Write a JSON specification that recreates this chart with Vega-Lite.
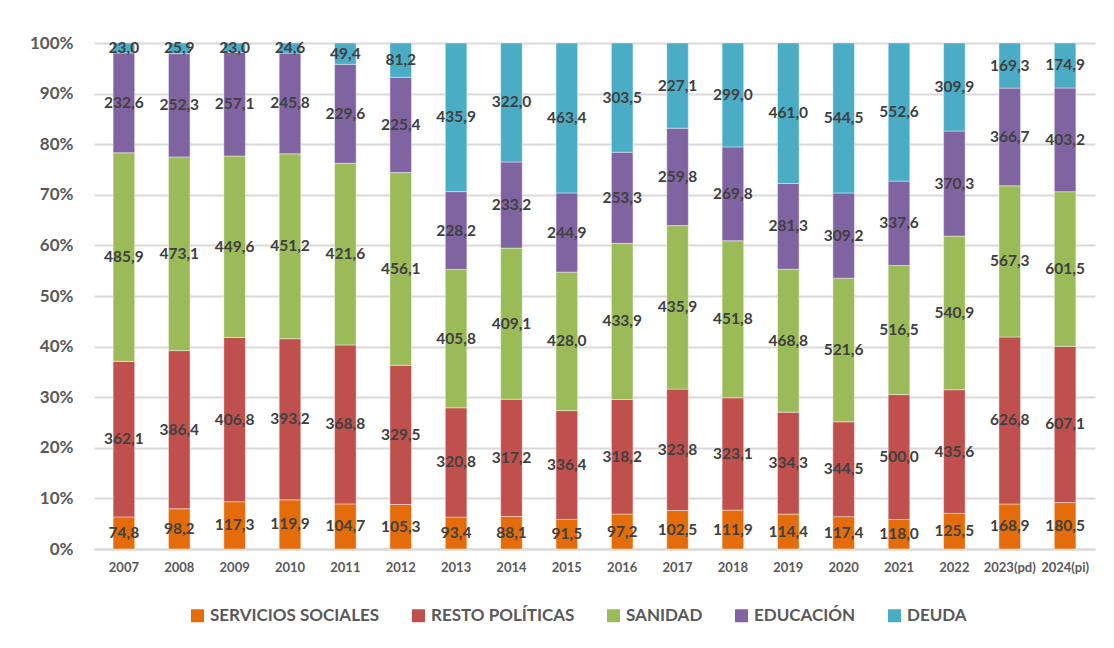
{
  "$schema": "https://vega.github.io/schema/vega-lite/v6.json",
  "width": 1001,
  "height": 506,
  "padding": {"left": 29, "top": 34, "right": 5, "bottom": 5},
  "background": "white",
  "config": {
    "locale": {"number": {"decimal": ",", "thousands": ".", "grouping": [3], "currency": ["", " €"]}},
    "view": {"stroke": null},
    "font": "Lato"
  },
  "data": {
    "values": [
      {"anio": "2007", "SERVICIOS SOCIALES": 74.8, "RESTO POLÍTICAS": 362.1, "SANIDAD": 485.9, "EDUCACIÓN": 232.6, "DEUDA": 23.0},
      {"anio": "2008", "SERVICIOS SOCIALES": 98.2, "RESTO POLÍTICAS": 386.4, "SANIDAD": 473.1, "EDUCACIÓN": 252.3, "DEUDA": 25.9},
      {"anio": "2009", "SERVICIOS SOCIALES": 117.3, "RESTO POLÍTICAS": 406.8, "SANIDAD": 449.6, "EDUCACIÓN": 257.1, "DEUDA": 23.0},
      {"anio": "2010", "SERVICIOS SOCIALES": 119.9, "RESTO POLÍTICAS": 393.2, "SANIDAD": 451.2, "EDUCACIÓN": 245.8, "DEUDA": 24.6},
      {"anio": "2011", "SERVICIOS SOCIALES": 104.7, "RESTO POLÍTICAS": 368.8, "SANIDAD": 421.6, "EDUCACIÓN": 229.6, "DEUDA": 49.4},
      {"anio": "2012", "SERVICIOS SOCIALES": 105.3, "RESTO POLÍTICAS": 329.5, "SANIDAD": 456.1, "EDUCACIÓN": 225.4, "DEUDA": 81.2},
      {"anio": "2013", "SERVICIOS SOCIALES": 93.4, "RESTO POLÍTICAS": 320.8, "SANIDAD": 405.8, "EDUCACIÓN": 228.2, "DEUDA": 435.9},
      {"anio": "2014", "SERVICIOS SOCIALES": 88.1, "RESTO POLÍTICAS": 317.2, "SANIDAD": 409.1, "EDUCACIÓN": 233.2, "DEUDA": 322.0},
      {"anio": "2015", "SERVICIOS SOCIALES": 91.5, "RESTO POLÍTICAS": 336.4, "SANIDAD": 428.0, "EDUCACIÓN": 244.9, "DEUDA": 463.4},
      {"anio": "2016", "SERVICIOS SOCIALES": 97.2, "RESTO POLÍTICAS": 318.2, "SANIDAD": 433.9, "EDUCACIÓN": 253.3, "DEUDA": 303.5},
      {"anio": "2017", "SERVICIOS SOCIALES": 102.5, "RESTO POLÍTICAS": 323.8, "SANIDAD": 435.9, "EDUCACIÓN": 259.8, "DEUDA": 227.1},
      {"anio": "2018", "SERVICIOS SOCIALES": 111.9, "RESTO POLÍTICAS": 323.1, "SANIDAD": 451.8, "EDUCACIÓN": 269.8, "DEUDA": 299.0},
      {"anio": "2019", "SERVICIOS SOCIALES": 114.4, "RESTO POLÍTICAS": 334.3, "SANIDAD": 468.8, "EDUCACIÓN": 281.3, "DEUDA": 461.0},
      {"anio": "2020", "SERVICIOS SOCIALES": 117.4, "RESTO POLÍTICAS": 344.5, "SANIDAD": 521.6, "EDUCACIÓN": 309.2, "DEUDA": 544.5},
      {"anio": "2021", "SERVICIOS SOCIALES": 118.0, "RESTO POLÍTICAS": 500.0, "SANIDAD": 516.5, "EDUCACIÓN": 337.6, "DEUDA": 552.6},
      {"anio": "2022", "SERVICIOS SOCIALES": 125.5, "RESTO POLÍTICAS": 435.6, "SANIDAD": 540.9, "EDUCACIÓN": 370.3, "DEUDA": 309.9},
      {"anio": "2023(pd)", "SERVICIOS SOCIALES": 168.9, "RESTO POLÍTICAS": 626.8, "SANIDAD": 567.3, "EDUCACIÓN": 366.7, "DEUDA": 169.3},
      {"anio": "2024(pi)", "SERVICIOS SOCIALES": 180.5, "RESTO POLÍTICAS": 607.1, "SANIDAD": 601.5, "EDUCACIÓN": 403.2, "DEUDA": 174.9}
    ]
  },
  "transform": [
    {"fold": ["SERVICIOS SOCIALES", "RESTO POLÍTICAS", "SANIDAD", "EDUCACIÓN", "DEUDA"], "as": ["serie", "valor"]},
    {"calculate": "indexof(['SERVICIOS SOCIALES', 'RESTO POLÍTICAS', 'SANIDAD', 'EDUCACIÓN', 'DEUDA'], datum.serie)", "as": "ord"},
    {"stack": "valor", "groupby": ["anio"], "sort": [{"field": "ord", "order": "ascending"}], "offset": "normalize", "as": ["v0", "v1"]},
    {"calculate": "(datum.v0 + datum.v1) / 2", "as": "vm"}
  ],
  "encoding": {
    "x": {
      "field": "anio",
      "type": "ordinal",
      "sort": null,
      "title": null,
      "scale": {"paddingInner": 0.61, "paddingOuter": 0.345},
      "axis": {
        "labelAngle": 0,
        "labelFontSize": 13,
        "labelFontWeight": "bold",
        "labelColor": "#595959",
        "labelPadding": 12,
        "ticks": false,
        "domainColor": "#D9D9D9",
        "domainWidth": 2
      }
    }
  },
  "layer": [
    {
      "mark": {"type": "bar", "stroke": "white", "strokeWidth": 0.6, "strokeOpacity": 0.7},
      "encoding": {
        "y": {
          "field": "v0",
          "type": "quantitative",
          "title": null,
          "scale": {"domain": [0, 1], "nice": false},
          "axis": {
            "values": [0, 0.1, 0.2, 0.3, 0.4, 0.5, 0.6, 0.7, 0.8, 0.9, 1],
            "format": ".0%",
            "labelFontSize": 17,
            "labelFontWeight": "bold",
            "labelColor": "#595959",
            "labelPadding": 21,
            "minExtent": 65,
            "maxExtent": 65,
            "ticks": false,
            "domain": false,
            "gridColor": "#D9D9D9",
            "gridWidth": 2
          }
        },
        "y2": {"field": "v1"},
        "color": {
          "field": "serie",
          "type": "nominal",
          "title": null,
          "scale": {
            "domain": ["SERVICIOS SOCIALES", "RESTO POLÍTICAS", "SANIDAD", "EDUCACIÓN", "DEUDA"],
            "range": ["#E46C0A", "#C0504D", "#9BBB59", "#8064A2", "#4BACC6"]
          },
          "legend": {
            "orient": "none",
            "legendX": 95,
            "legendY": 564,
            "direction": "horizontal",
            "symbolType": "square",
            "symbolSize": 169,
            "symbolStrokeWidth": 0,
            "labelFontSize": 17,
            "labelFontWeight": "bold",
            "labelColor": "#595959",
            "labelOffset": 4,
            "columnPadding": 30,
            "labelLimit": 300
          }
        }
      }
    },
    {
      "mark": {"type": "text", "fontSize": 15.5, "fontWeight": "bold", "color": "#404040", "baseline": "middle", "align": "center"},
      "encoding": {
        "y": {"field": "vm", "type": "quantitative"},
        "text": {"field": "valor", "type": "quantitative", "format": ".1f"}
      }
    }
  ]
}
